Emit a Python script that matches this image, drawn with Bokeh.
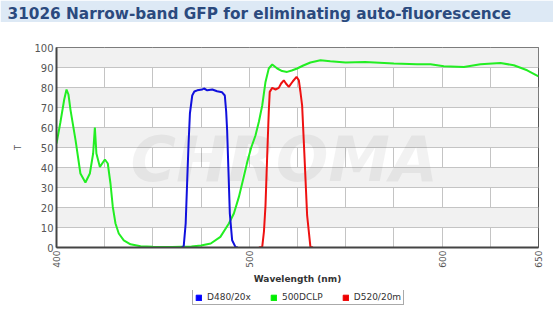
import math
from bokeh.plotting import figure
from bokeh.layouts import column
from bokeh.models import (Label, Legend, LegendItem, FixedTicker, ColumnDataSource,
                          Range1d)
from bokeh.embed import file_html
from bokeh.resources import INLINE

# ---------------- data ----------------
title_text = "31026 Narrow-band GFP for eliminating auto-fluorescence"

green_name = "500DCLP"
green_x = [400, 402, 404, 405.2, 406.2, 407.3, 409.9, 412.4, 415, 417.3, 419, 419.9,
           420.7, 422.5, 425.1, 426.6, 428, 429.2, 430.6, 432.3, 434.9, 438.4, 443.6,
           450, 460, 470, 475, 480, 485, 489.4, 492, 494.6, 497.1, 499, 501, 503.2,
           505, 506.7, 508.4, 510.1, 511.9, 514.5, 517, 519.6, 522, 524.8, 528, 531.7,
           536.9, 542, 550, 560, 575, 587, 594, 600.9, 611.3, 619.9, 630.3, 637.2,
           644.1, 650]
green_y = [52, 62.5, 74, 79, 76.5, 68.6, 53.6, 37, 32.5, 37, 47, 60,
           47, 40.3, 44, 42, 32, 20.3, 12, 7, 3.6, 1.6, 0.6,
           0.4, 0.3, 0.5, 1, 2, 5.3, 12, 17, 25.3, 35.3, 43, 50, 56,
           63, 71, 82.8, 89.5, 91.5, 89.5, 88.2, 87.8, 88.5, 89.5, 91, 92.5,
           93.6, 93.1, 92.5, 92.8, 92, 91.6, 91.6, 90.6, 90.3, 91.6, 92.3, 91.1,
           88.6, 85.6]

blue_name = "D480/20x"
blue_x = [465, 466, 467, 467.8, 468.5, 469.2, 470.4, 471.5, 473, 475.6, 476.5, 478.2,
          480.8, 483.3, 485.9, 487.3, 488, 488.5, 489.2, 489.9, 491.1, 492.8, 494]
blue_y = [0, 0.8, 12, 33.6, 52, 67, 76, 78, 78.6, 79, 79.5, 78.6,
          79, 78.1, 77.6, 76, 68, 58.6, 38, 17, 3.6, 0.3, 0]

red_name = "D520/20m"
red_x = [505, 506.7, 507.6, 508.4, 509, 509.6, 510.1, 510.6, 511.9, 513.6, 515.3,
         516.5, 517.9, 519, 520.5, 522.5, 524.5, 525.7, 526.5, 527.4, 528.6, 530,
         531.7, 533]
red_y = [0, 0.3, 8, 21, 38, 54.5, 68, 77.8, 79.8, 79, 79.8,
         82, 83.6, 82, 80.3, 83, 85.3, 83.6, 78, 71, 46, 16,
         0.3, 0]

x_label_ticks = [400, 500, 600, 650]
x_grid_ticks = [400, 425, 450, 475, 500, 525, 550, 575, 600, 625, 650]
y_ticks = [0, 10, 20, 30, 40, 50, 60, 70, 80, 90, 100]

FONT = "DejaVu Sans"
BAND = "#dde9f5"

# ---------------- title strip ----------------
pt = figure(width=553, height=22, output_backend="svg", toolbar_location=None,
            x_range=Range1d(0, 1), y_range=Range1d(0, 1),
            x_axis_type=None, y_axis_type=None,
            min_border_left=56, min_border_right=15, min_border_top=0,
            min_border_bottom=0, outline_line_color=None,
            background_fill_color=BAND, border_fill_color=BAND)
pt.grid.visible = False
pt.title.text = title_text
pt.title.align = "left"
pt.title.offset = -49
pt.title.vertical_align = "bottom"
pt.title.standoff = 0
pt.title.padding = (0, 0, 2, 0)
pt.title.text_font = FONT
pt.title.text_font_style = "bold"
pt.title.text_font_size = "15.3px"
pt.title.text_color = "#2b4a7e"

# ---------------- main figure ----------------
p = figure(width=553, height=268, output_backend="svg", toolbar_location=None,
           x_range=Range1d(400, 650), y_range=Range1d(0, 100),
           min_border_left=56, min_border_right=15, min_border_top=25,
           min_border_bottom=43, background_fill_color="white",
           border_fill_color="white", outline_line_color="#555555",
           outline_line_width=1)

# grid
p.xgrid.ticker = FixedTicker(ticks=x_grid_ticks)
p.ygrid.ticker = FixedTicker(ticks=y_ticks)
for g in (p.xgrid, p.ygrid):
    g.grid_line_color = "#c4c4c4"
    g.grid_line_width = 1
p.ygrid.band_fill_color = "#f1f1f1"
p.ygrid.band_fill_alpha = 1.0

# axes
p.xaxis.ticker = FixedTicker(ticks=x_label_ticks)
p.yaxis.ticker = FixedTicker(ticks=y_ticks)
p.xaxis.major_label_orientation = math.pi / 2
for ax in (p.xaxis, p.yaxis):
    ax.axis_line_color = "#444444"
    ax.axis_line_width = 2
    ax.major_tick_in = 0
    ax.major_tick_out = 0
    ax.minor_tick_in = 0
    ax.minor_tick_out = 0
    ax.major_label_text_font = FONT
    ax.major_label_text_color = "#555555"
    ax.major_label_standoff = 3
p.yaxis.major_label_text_font_size = "10px"
p.xaxis.major_label_text_font_size = "9px"
p.xaxis.axis_label = "Wavelength (nm)"
p.xaxis.axis_label_text_font = FONT
p.xaxis.axis_label_text_font_style = "bold"
p.xaxis.axis_label_text_font_size = "9px"
p.xaxis.axis_label_text_color = "#333333"
p.xaxis.axis_label_standoff = 3
p.yaxis.axis_label = "T"
p.yaxis.axis_label_text_font = FONT
p.yaxis.axis_label_text_font_style = "normal"
p.yaxis.axis_label_text_font_size = "8px"
p.yaxis.axis_label_text_color = "#555555"
p.yaxis.axis_label_standoff = 8

# watermark
wm = Label(x=74, y=52, x_units="screen", y_units="screen", text="CHROMA",
           text_font=FONT, text_font_style="bold italic", text_font_size="62px",
           text_color="#000000", text_alpha=0.05, level="underlay")
p.add_layout(wm)

# curves
p.line(green_x, green_y, line_color="#22ee22", line_width=2)
p.line(blue_x, blue_y, line_color="#1010dd", line_width=2)
p.line(red_x, red_y, line_color="#ee1111", line_width=2)

# ---------------- legend strip ----------------
pl = figure(width=553, height=25, output_backend="svg", toolbar_location=None,
            x_range=Range1d(0, 1), y_range=Range1d(0, 1),
            x_axis_type=None, y_axis_type=None,
            min_border_left=56, min_border_right=15, min_border_top=0,
            min_border_bottom=0, outline_line_color=None,
            background_fill_color="white", border_fill_color="white")
pl.grid.visible = False


def swatch(color):
    nan = float("nan")
    src = ColumnDataSource(dict(l=[nan], r=[nan], t=[nan], b=[nan]))
    return pl.quad(left="l", right="r", top="t", bottom="b", source=src,
                   fill_color=color, line_color=color)


r_blue = swatch("#0000ff")
r_green = swatch("#00ee00")
r_red = swatch("#ee0000")

legend = Legend(items=[LegendItem(label=blue_name, renderers=[r_blue]),
                       LegendItem(label=green_name, renderers=[r_green]),
                       LegendItem(label=red_name, renderers=[r_red])],
                orientation="horizontal", location=(136, 10),
                label_text_font=FONT, label_text_font_size="9px",
                label_text_color="#333333", glyph_width=7, glyph_height=7,
                label_height=9, label_standoff=5, spacing=19, padding=2,
                margin=0, border_line_color="#555555", border_line_width=1,
                background_fill_color="white", background_fill_alpha=1)
pl.add_layout(legend, "center")

layout = column(pt, p, pl, spacing=0)
open("out.html", "w").write(file_html(layout, INLINE))
